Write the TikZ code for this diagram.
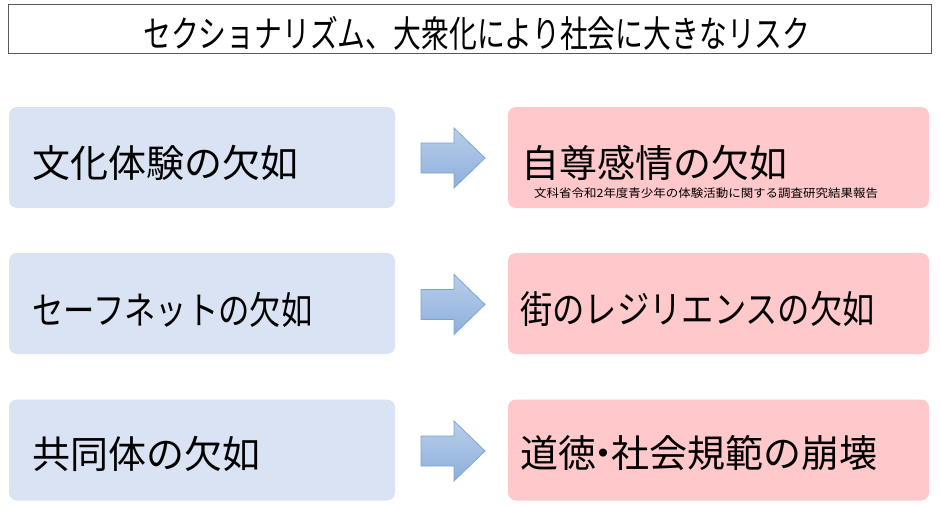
\documentclass[tikz,border=0pt]{standalone}
\usepackage{fontspec}
\usepackage{graphicx}
\setmainfont{Noto Sans CJK JP}
\definecolor{lblue}{HTML}{DAE3F3}
\definecolor{lpink}{HTML}{FFC8CB}
\definecolor{arrtop}{HTML}{B8CEEA}
\definecolor{arrbot}{HTML}{8EAFDB}
\definecolor{arredge}{HTML}{7DA4D6}
\definecolor{titleedge}{HTML}{595959}
\newcommand\bigjp{\fontsize{38pt}{40pt}\selectfont}
\newcommand\titlejp{\fontsize{36pt}{38pt}\selectfont}
\newcommand\smalljp{\fontsize{11.5pt}{13pt}\selectfont}
\begin{document}
\begin{tikzpicture}[x=1pt,y=-1pt]
\tikzset{
  leftbox/.style={fill=lblue, draw=none, rounded corners=8pt, minimum width=386pt, minimum height=101pt, inner sep=0pt},
  rightbox/.style={fill=lpink, draw=none, rounded corners=8pt, minimum width=421pt, minimum height=101pt, inner sep=0pt},
  titlebox/.style={fill=white, draw=titleedge, line width=0.9pt, minimum width=923pt, minimum height=49pt, inner sep=0pt},
  label/.style={anchor=base west, inner sep=0pt, text=black},
  arrowfill/.style={top color=arrtop, bottom color=arrbot, draw=arredge, line width=0.8pt, line join=miter},
  barrow/.pic={\path[arrowfill] (0,-15) -- (33,-15) -- (33,-30) -- (64,0) -- (33,30) -- (33,15) -- (0,15) -- cycle;}
}
\useasboundingbox[fill=white] (0,0) rectangle (940,506);
% title
\node[titlebox] (title) at (469.5,28.5) {};
\node[label] (titletext) at (143,47) {\titlejp\scalebox{0.773}[1.02]{セクショナリズム、大衆化により社会に大きなリスク}};
% rows
\node[leftbox] (L1) at (202,157.5) {};
\node[leftbox] (L2) at (202,303.5) {};
\node[leftbox] (L3) at (202,450) {};
\node[rightbox] (R1) at (718.5,157.5) {};
\node[rightbox] (R2) at (718.5,303.5) {};
\node[rightbox] (R3) at (718.5,450) {};
\node[label] (L1t) at (32,177) {\bigjp 文化体験の欠如};
\node[label] (L2t) at (32,324) {\bigjp\scalebox{0.825}[1]{セーフネットの欠如}};
\node[label] (L3t) at (32,468) {\bigjp 共同体の欠如};
\node[label] (R1t) at (521,177) {\bigjp 自尊感情の欠如};
\node[label] (R1s) at (534,197) {\smalljp\scalebox{1.085}[1]{文科省令和2年度青少年の体験活動に関する調査研究結果報告}};
\node[label] (R2t) at (520,323) {\bigjp\scalebox{0.85}[1]{街のレジリエンスの欠如}};
\node[label] (R3t) at (520,467) {\bigjp 道徳\hspace{-11.5pt}・\hspace{-11.5pt}社会規範の崩壊};
% arrows
\pic at (421,158) {barrow};
\pic at (421,304.5) {barrow};
\pic at (421,451) {barrow};
\end{tikzpicture}
\end{document}
